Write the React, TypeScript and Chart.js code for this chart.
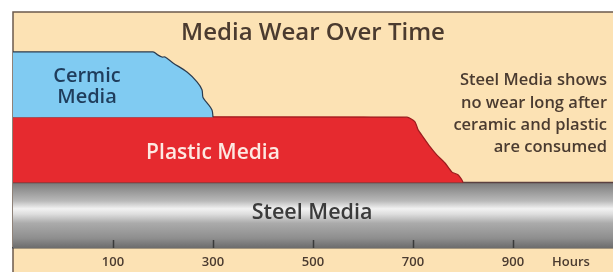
import React, { useEffect, useRef } from "react";
import { Chart, registerables } from "chart.js";

Chart.register(...registerables);

// ---- data ----
const chartTitle = "Media Wear Over Time";
const hoursMin = -100;
const hoursMax = 1100;
const tickValues = [100, 300, 500, 700, 900];
const unitLabel = "Hours";
const unitLabelPos = 1016;

// wear profiles (x = hours, y = stacked layer height)
const ceramicHours = [-100, 180, 190, 198, 204, 220, 248, 268, 278, 280, 288, 298, 300];
const ceramicLevel = [3, 3, 2.95, 2.92, 2.92, 2.83, 2.69, 2.54, 2.42, 2.3, 2.22, 2.11, 2.0];
const plasticHours = [-100, 688, 704, 710, 720, 734, 748, 764, 778, 790, 798, 800];
const plasticLevel = [2, 2, 1.93, 1.81, 1.7, 1.55, 1.42, 1.3, 1.16, 1.12, 1.04, 1.0];
const steelHours = [-100, 1100];
const steelLevel = [1, 1];

const ceramicLabel = ["Cermic", "Media"];
const plasticLabel = "Plastic Media";
const steelLabel = "Steel Media";
const noteLines = ["Steel Media shows", "no wear long after", "ceramic and plastic", "are consumed"];

const FONT = "'Open Sans', 'Noto Sans', sans-serif";

function toPoints(xs: number[], ys: number[]) {
  return xs.map((x, i) => ({ x, y: ys[i] }));
}

export default function App() {
  const ref = useRef<HTMLCanvasElement | null>(null);

  useEffect(() => {
    if (!ref.current) return;

    const backgroundPlugin = {
      id: "panelBg",
      beforeDraw(chart: any) {
        const c = chart.ctx;
        c.save();
        c.fillStyle = "#ffffff";
        c.fillRect(0, 0, chart.width, chart.height);
        c.fillStyle = "#fce2b4";
        c.fillRect(13, 12, chart.width - 13, chart.height - 12);
        c.strokeStyle = "#6b5a4c";
        c.lineWidth = 1.5;
        c.beginPath();
        c.moveTo(13, chart.height);
        c.lineTo(13, 12);
        c.lineTo(chart.width, 12);
        c.stroke();
        c.restore();
      },
    };

    const textPlugin = {
      id: "annotText",
      afterDatasetsDraw(chart: any) {
        const c = chart.ctx;
        const xs = chart.scales.x;
        const ys = chart.scales.y;
        const px = (v: number) => xs.getPixelForValue(v);
        const py = (v: number) => ys.getPixelForValue(v);
        c.save();
        // tick marks inside steel band
        c.strokeStyle = "#3a3a3a";
        c.lineWidth = 1.5;
        const bottom = py(0);
        tickValues.forEach((t) => {
          c.beginPath();
          c.moveTo(Math.round(px(t)) + 0.5, bottom - 8);
          c.lineTo(Math.round(px(t)) + 0.5, bottom);
          c.stroke();
        });
        c.textBaseline = "middle";
        c.textAlign = "center";
        // ceramic
        c.fillStyle = "#1f3d5c";
        c.font = `600 20px ${FONT}`;
        c.fillText(ceramicLabel[0], px(48), py(2.62));
        c.fillText(ceramicLabel[1], px(48), py(2.31));
        // plastic
        c.fillStyle = "#fde9e2";
        c.font = `600 21px ${FONT}`;
        c.fillText(plasticLabel, px(300), py(1.46));
        // steel
        c.fillStyle = "#3b3b3b";
        c.font = `600 21.5px ${FONT}`;
        c.fillText(steelLabel, px(498), py(0.54));
        // note
        c.fillStyle = "#4a3b30";
        c.font = `600 16.5px ${FONT}`;
        c.textAlign = "right";
        const noteY = [2.56, 2.22, 1.88, 1.54];
        noteLines.forEach((l, i) => c.fillText(l, px(1088), py(noteY[i])));
        c.restore();
      },
    };

    const steelGradient = (ctx: any) => {
      const chart = ctx.chart;
      if (!chart.chartArea || !chart.scales.y) return "#a0a0a0";
      const y0 = chart.scales.y.getPixelForValue(1);
      const y1 = chart.scales.y.getPixelForValue(0);
      const g = chart.ctx.createLinearGradient(0, y0, 0, y1);
      g.addColorStop(0, "#7a7a7a");
      g.addColorStop(0.12, "#959595");
      g.addColorStop(0.28, "#b9b9b9");
      g.addColorStop(0.4, "#f2f2f2");
      g.addColorStop(0.48, "#dedede");
      g.addColorStop(0.62, "#ababab");
      g.addColorStop(0.85, "#8e8e8e");
      g.addColorStop(1, "#6c6c6c");
      return g;
    };

    const chart = new Chart(ref.current, {
      type: "line",
      data: {
        datasets: [
          {
            label: "Ceramic",
            data: toPoints(ceramicHours, ceramicLevel),
            fill: { value: 2 },
            backgroundColor: "#80cbf2",
            borderColor: "#2b3b4e",
            borderWidth: 1.2,
            pointRadius: 0,
            tension: 0.3,
            clip: false,
          },
          {
            label: "Plastic",
            data: toPoints(plasticHours, plasticLevel),
            fill: { value: 1 },
            backgroundColor: "#e62a2f",
            borderColor: "#9c1c1e",
            borderWidth: 1.2,
            pointRadius: 0,
            tension: 0.2,
            clip: false,
          },
          {
            label: "Steel",
            data: toPoints(steelHours, steelLevel),
            fill: "origin",
            backgroundColor: steelGradient,
            borderColor: "#5a4040",
            borderWidth: 1.5,
            pointRadius: 0,
            clip: false,
          },
        ],
      },
      options: {
        animation: false,
        responsive: false,
        maintainAspectRatio: false,
        layout: { padding: { left: 13, right: 0, top: 12, bottom: 0 } },
        plugins: {
          legend: { display: false },
          tooltip: { enabled: false },
          title: {
            display: true,
            text: chartTitle,
            color: "#4b3b2f",
            font: { family: FONT, size: 24, weight: "600" },
            padding: { top: 7, bottom: 4 },
          },
        },
        scales: {
          x: {
            type: "linear",
            min: hoursMin,
            max: hoursMax,
            grid: { display: false, drawTicks: false },
            border: { display: true, color: "#4a4a4a", width: 1.5 },
            afterBuildTicks: (axis: any) => {
              axis.ticks = [...tickValues.map((v) => ({ value: v })), { value: unitLabelPos }];
            },
            afterFit: (axis: any) => {
              axis.height = 24;
            },
            ticks: {
              autoSkip: false,
              maxRotation: 0,
              padding: 6,
              color: "#4a3b30",
              font: { family: FONT, size: 13, weight: "600" },
              callback: (v: any) => (v === unitLabelPos ? unitLabel : String(v)),
            },
          },
          y: {
            type: "linear",
            display: false,
            min: 0,
            max: 3,
          },
        },
      },
      plugins: [backgroundPlugin, textPlugin],
    });
    return () => chart.destroy();
  }, []);

  return (
    <div style={{ position: "absolute", left: 0, top: 0, width: 613, height: 272 }}>
      <canvas ref={ref} width={613} height={272} style={{ width: 613, height: 272 }} />
    </div>
  );
}
